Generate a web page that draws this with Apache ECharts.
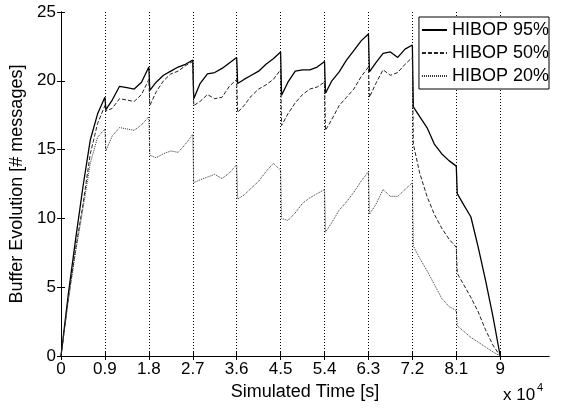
<!DOCTYPE html>
<html>
<head>
<meta charset="utf-8">
<script src="https://cdn.jsdelivr.net/npm/echarts@6/dist/echarts.min.js"></script>
<style>
  html, body { margin: 0; padding: 0; background: #fff; }
  #main { width: 561px; height: 410px; }
</style>
</head>
<body>
<div id="main"></div>
<script>
// simulated time, x 10^4 s (same sampling for the three curves)
var simTime = [
  0, 0.15, 0.3, 0.45, 0.6, 0.75, 0.9,
  0.92, 1.05, 1.2, 1.35, 1.5, 1.65, 1.8,
  1.82, 1.95, 2.1, 2.25, 2.4, 2.55, 2.7,
  2.72, 2.85, 3.0, 3.15, 3.3, 3.45, 3.6,
  3.62, 3.75, 3.9, 4.05, 4.2, 4.35, 4.5,
  4.52, 4.65, 4.8, 4.95, 5.1, 5.25, 5.4,
  5.42, 5.55, 5.7, 5.85, 6.0, 6.15, 6.3,
  6.32, 6.45, 6.6, 6.75, 6.9, 7.05, 7.2,
  7.22, 7.35, 7.5, 7.65, 7.8, 7.95, 8.1,
  8.12, 8.25, 8.4, 8.55, 8.7, 8.85, 9.0
];

var hibop95 = [
  0, 4.5, 8.5, 12.3, 15.7, 17.6, 18.8,
  17.9, 18.6, 19.6, 19.5, 19.4, 19.9, 21.0,
  19.3, 19.9, 20.4, 20.7, 21.0, 21.2, 21.5,
  18.7, 19.8, 20.5, 20.6, 20.9, 21.3, 21.7,
  19.8, 20.1, 20.4, 20.7, 21.2, 21.6, 22.1,
  18.95, 19.9, 20.7, 20.8, 20.8, 21.0, 21.4,
  19.1, 20.0, 20.65, 21.5, 22.2, 22.9, 23.4,
  20.65, 21.3, 22.0, 22.1, 21.7, 22.3, 22.6,
  18.1, 17.4, 16.6, 15.4, 14.7, 14.2, 13.8,
  11.8, 11.0, 10.1, 7.9, 5.5, 2.9, 0
];

var hibop50 = [
  0, 4.2, 7.8, 11.0, 14.7, 16.9, 18.2,
  17.8, 18.0, 18.7, 18.6, 18.5, 19.0, 20.1,
  18.2, 19.2, 20.0, 20.5, 20.7, 21.1, 21.4,
  18.2, 18.5, 19.0, 18.7, 18.8, 19.6, 20.1,
  17.7, 18.2, 18.9, 19.4, 19.7, 20.1, 20.8,
  16.75, 17.6, 18.4, 19.0, 19.4, 19.55, 19.9,
  16.4, 17.2, 18.2, 18.8, 19.4, 20.3, 21.0,
  18.8, 19.8, 20.8, 20.4, 20.6, 21.2, 21.7,
  15.4, 13.3, 11.6, 10.3, 9.3, 8.5, 7.9,
  6.0, 5.2, 4.25, 3.2, 1.9, 0.8, 0
];

var hibop20 = [
  0, 4.0, 7.6, 10.7, 14.0, 15.9, 16.5,
  14.9, 16.0, 16.6, 16.5, 16.4, 16.8, 17.4,
  14.6, 14.4, 14.7, 14.9, 14.8, 15.4, 16.1,
  12.6, 12.8, 13.0, 13.2, 12.9, 13.3, 13.9,
  11.4, 11.7, 12.2, 12.7, 13.4, 14.0, 13.5,
  10.0, 9.85, 10.4, 11.1, 11.5, 11.8, 12.1,
  9.0, 9.7, 10.6, 11.2, 11.9, 12.7, 13.4,
  10.3, 11.0, 12.1, 11.6, 11.6, 12.1, 12.6,
  8.0, 7.1, 6.2, 5.2, 4.2, 3.6, 3.3,
  2.2, 1.8, 1.35, 1.0, 0.65, 0.3, 0
];

var xTicks = [0, 0.9, 1.8, 2.7, 3.6, 4.5, 5.4, 6.3, 7.2, 8.1, 9];
var seriesNames = ['HIBOP 95%', 'HIBOP 50%', 'HIBOP 20%'];

function pairs(xArr, yArr) {
  var out = [];
  for (var i = 0; i < xArr.length; i++) {
    out.push([xArr[i], yArr[i]]);
  }
  return out;
}

var font = 'Liberation Sans, Arial, sans-serif';
var chart = echarts.init(document.getElementById('main'));

var option = {
  animation: false,
  backgroundColor: '#fff',
  grid: { left: 61, top: 12, right: 12, bottom: 54 },
  legend: {
    data: seriesNames,
    orient: 'vertical',
    right: 12,
    top: 17,
    itemWidth: 25,
    itemHeight: 14,
    itemGap: 5,
    padding: [4, 0, 4, 2],
    backgroundColor: '#fff',
    borderColor: '#000',
    borderWidth: 1,
    borderRadius: 0,
    itemStyle: { opacity: 0 },
    textStyle: { fontSize: 18, color: '#000', fontFamily: font }
  },
  xAxis: [
    {
      type: 'value',
      min: 0,
      max: 10,
      name: 'Simulated Time [s]',
      nameLocation: 'middle',
      nameGap: 21,
      nameTextStyle: { fontSize: 18, color: '#000', fontFamily: font },
      axisLine: { lineStyle: { color: '#000', width: 1 } },
      axisTick: { inside: true, length: 4, customValues: xTicks, lineStyle: { color: '#000' } },
      axisLabel: {
        customValues: xTicks,
        fontSize: 17, color: '#000', fontFamily: font, margin: 5,
        formatter: function (v) { return String(v); }
      },
      splitLine: { show: true, lineStyle: { color: '#000', type: [1, 2], width: 1 } }
    },
    {
      type: 'value',
      position: 'top',
      min: 0,
      max: 10,
      axisLine: { lineStyle: { color: '#000', width: 1 } },
      axisTick: { inside: true, length: 4, customValues: xTicks, lineStyle: { color: '#000' } },
      axisLabel: { show: false },
      splitLine: { show: false }
    }
  ],
  yAxis: [
    {
      type: 'value',
      min: 0,
      max: 25,
      interval: 5,
      name: 'Buffer Evolution [# messages]',
      nameLocation: 'middle',
      nameGap: 35,
      nameTextStyle: { fontSize: 18, color: '#000', fontFamily: font },
      axisLine: { show: true, lineStyle: { color: '#000', width: 1 } },
      axisTick: { show: true, inside: true, length: 4, lineStyle: { color: '#000' } },
      axisLabel: { fontSize: 17, color: '#000', fontFamily: font, margin: 5 },
      splitLine: { show: false }
    },
    {
      type: 'value',
      position: 'right',
      min: 0,
      max: 25,
      interval: 5,
      axisLine: { show: true, lineStyle: { color: '#000', width: 1 } },
      axisTick: { show: true, inside: true, length: 4, lineStyle: { color: '#000' } },
      axisLabel: { show: false },
      splitLine: { show: false }
    }
  ],
  graphic: [
    { type: 'text', left: 503, top: 387, style: { text: 'x 10', fontSize: 17, fill: '#000', fontFamily: font } },
    { type: 'text', left: 537, top: 382, style: { text: '4', fontSize: 11, fill: '#000', fontFamily: font } }
  ],
  series: [
    {
      name: seriesNames[0], type: 'line', symbol: 'none',
      data: pairs(simTime, hibop95),
      itemStyle: { color: '#000' },
      lineStyle: { color: '#000', width: 1.3, type: 'solid' }
    },
    {
      name: seriesNames[1], type: 'line', symbol: 'none',
      data: pairs(simTime, hibop50),
      itemStyle: { color: '#222' },
      lineStyle: { color: '#222', width: 1, type: [4, 2] }
    },
    {
      name: seriesNames[2], type: 'line', symbol: 'none',
      data: pairs(simTime, hibop20),
      itemStyle: { color: '#333' },
      lineStyle: { color: '#333', width: 1, type: [1, 1] }
    }
  ]
};

chart.setOption(option);
</script>
</body>
</html>
